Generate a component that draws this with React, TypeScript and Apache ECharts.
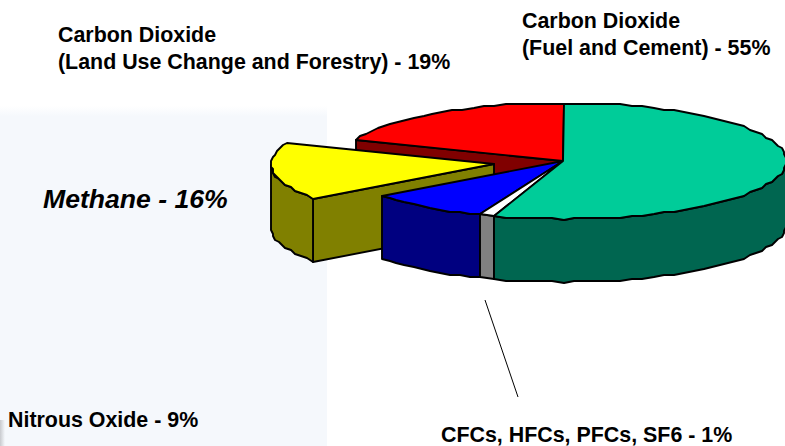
import React, { useEffect, useRef } from "react";
import * as echarts from "echarts";

const categories = [
  "Carbon Dioxide (Land Use Change and Forestry)",
  "Methane",
  "Nitrous Oxide",
  "CFCs, HFCs, PFCs, SF6",
  "Carbon Dioxide (Fuel and Cement)",
];
const values = [19, 16, 9, 1, 55];
const startAngles = [291.6, 234, 201.6, 198, 0];
const topColors = ["#ff0000", "#ffff00", "#0000ff", "#ffffff", "#00cc99"];
const sideColors = ["#800000", "#808000", "#000080", "#808080", "#006650"];
const explodeFlags = [0, 1, 0, 0, 0];

const CX = 563;
const CY = 161;
const RX = 223;
const RY = 58;
const DEPTH = 63;
const EXPLODE_X = -69;
const EXPLODE_Y = 3;
const STEP = 3;
const GRID = 2;

function pt(a: number, ox: number, oy: number, dy = 0): number[] {
  const r = (a * Math.PI) / 180;
  const x = CX + RX * Math.sin(r);
  const y = CY - RY * Math.cos(r);
  return [Math.round(x / GRID) * GRID + ox, Math.round(y / GRID) * GRID + oy + dy];
}

function arc(a0: number, a1: number, ox: number, oy: number, dy = 0): number[][] {
  const pts: number[][] = [];
  const n = Math.max(1, Math.round(Math.abs(a1 - a0) / STEP));
  for (let i = 0; i <= n; i++) pts.push(pt(a0 + ((a1 - a0) * i) / n, ox, oy, dy));
  return pts;
}

function renderSlice(params: any, api: any) {
  const i = params.dataIndex;
  const value = api.value(0) as number;
  const a0 = startAngles[i];
  const a1 = a0 + value * 3.6;
  const ox = explodeFlags[i] ? EXPLODE_X : 0;
  const oy = explodeFlags[i] ? EXPLODE_Y : 0;
  const c = [CX + ox, CY + oy];
  const stroke = { stroke: "#000", lineWidth: 1.9, lineJoin: "round" };
  const side = { ...stroke, fill: sideColors[i] };
  const children: any[] = [];

  // radial wall facing the viewer
  const radial = (a: number) => {
    const p = pt(a, ox, oy);
    return {
      type: "polygon",
      shape: { points: [c, p, [p[0], p[1] + DEPTH], [c[0], c[1] + DEPTH]] },
      style: side,
    };
  };
  if (i === 0 || i === 1) children.push(radial(a0));

  // outer wall, front half only
  const f0 = Math.max(a0, 90);
  const f1 = Math.min(a1, 270);
  if (f1 > f0) {
    const upper = arc(f0, f1, ox, oy);
    const lower = arc(f1, f0, ox, oy, DEPTH);
    children.push({ type: "polygon", shape: { points: [...upper, ...lower] }, style: side });
  }

  // top face
  children.push({
    type: "polygon",
    shape: { points: [c, ...arc(a0, a1, ox, oy)] },
    style: { ...stroke, fill: topColors[i] },
  });
  return { type: "group", children };
}

const noteLines = [
  { text: "Carbon Dioxide", x: 58, y: 35 },
  { text: "(Land Use Change and Forestry) - 19%", x: 58, y: 62 },
  { text: "Carbon Dioxide", x: 522, y: 21 },
  { text: "(Fuel and Cement) - 55%", x: 522, y: 48 },
  { text: "Nitrous Oxide - 9%", x: 8, y: 420 },
  { text: "CFCs, HFCs, PFCs, SF6 - 1%", x: 441, y: 435 },
];

export default function App() {
  const ref = useRef<HTMLDivElement>(null);
  useEffect(() => {
    document.body.style.margin = "0";
    const chart = echarts.init(ref.current!, undefined, { renderer: "svg" });
    chart.setOption({
      animation: false,
      backgroundColor: "#ffffff",
      graphic: [
        {
          type: "rect",
          z: 0,
          shape: { x: 0, y: 106, width: 327, height: 340 },
          style: {
            fill: {
              type: "linear", x: 0, y: 0, x2: 0, y2: 1,
              colorStops: [
                { offset: 0, color: "#ffffff" },
                { offset: 0.03, color: "#f5f8fc" },
                { offset: 1, color: "#f5f8fc" },
              ],
            },
          },
        },
        {
          type: "rect",
          z: 1,
          shape: { x: 0, y: 420, width: 5, height: 26 },
          style: {
            fill: {
              type: "linear", x: 0, y: 0, x2: 1, y2: 0,
              colorStops: [
                { offset: 0, color: "#c8cace" },
                { offset: 1, color: "#f5f8fc" },
              ],
            },
          },
        },
        {
          type: "line",
          z: 5,
          shape: { x1: 485, y1: 300, x2: 518, y2: 397 },
          style: { stroke: "#000", lineWidth: 1 },
        },
        ...noteLines.map((t) => ({
          type: "text",
          z: 5,
          x: t.x,
          y: t.y,
          style: {
            text: t.text,
            fill: "#000",
            font: `bold 21.4px "Liberation Sans", Arial, sans-serif`,
            textVerticalAlign: "middle",
          },
        })),
        {
          type: "text",
          z: 5,
          x: 43,
          y: 199,
          style: {
            text: "Methane - 16%",
            fill: "#000",
            font: `italic bold 26.6px "Liberation Sans", Arial, sans-serif`,
            textVerticalAlign: "middle",
          },
        },
      ],
      series: [
        {
          type: "custom",
          coordinateSystem: "none",
          silent: true,
          z: 2,
          clip: false,
          data: values.map((v, i) => ({ name: categories[i], value: [v] })),
          renderItem: renderSlice,
        },
      ],
    });
    return () => chart.dispose();
  }, []);
  return <div ref={ref} style={{ width: 785, height: 446, position: "absolute", left: 0, top: 0 }} />;
}
